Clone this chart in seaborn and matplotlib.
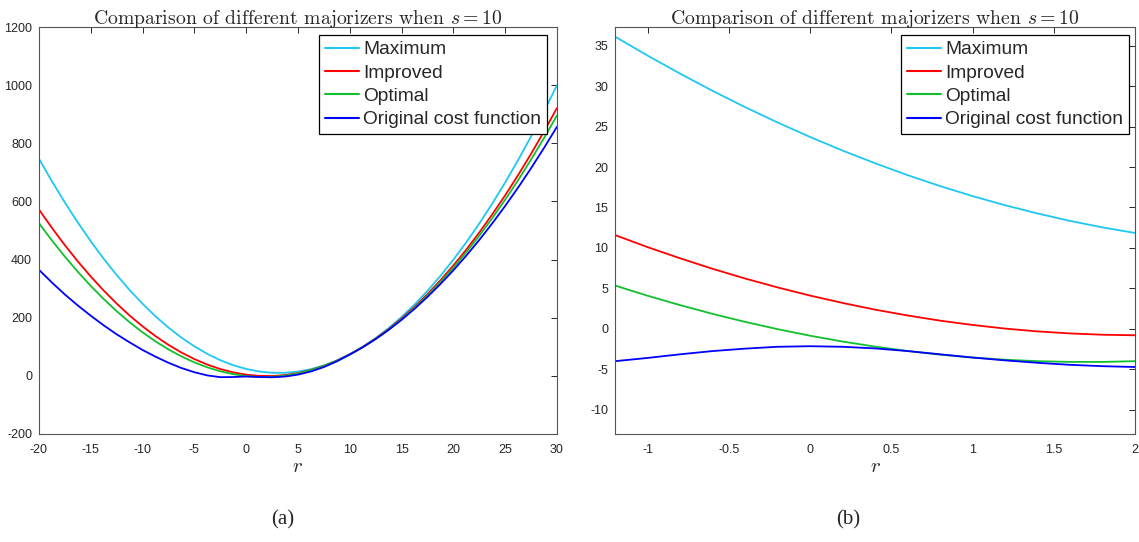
import matplotlib
matplotlib.use("Agg")
import matplotlib.pyplot as plt
from matplotlib.ticker import FuncFormatter
import pandas as pd
import seaborn as sns

# ---- panel (a): wide range of r ----
r_wide = [-20, -18.75, -17.5, -16.25, -15, -13.75, -12.5, -11.25, -10, -8.75,
          -7.5, -6.25, -5, -3.75, -2.5, -1.25, 0, 1.25, 2.5, 3.75,
          5, 6.25, 7.5, 8.75, 10, 11.25, 12.5, 13.75, 15, 16.25,
          17.5, 18.75, 20, 21.25, 22.5, 23.75, 25, 26.25, 27.5, 28.75, 30]
maximum_wide = [747.0, 669.6, 596.5, 527.7, 463.1, 402.9, 347.0, 295.3, 248.0, 204.9,
                166.1, 131.7, 101.5, 75.6, 54.0, 36.7, 23.7, 15.0, 10.6, 10.5,
                14.7, 23.1, 35.9, 52.9, 74.3, 99.9, 129.9, 164.1, 202.6, 245.4,
                292.5, 343.9, 399.7, 459.6, 523.9, 592.5, 665.4, 742.5, 824.0, 909.8, 999.8]
improved_wide = [572.4, 509.2, 449.7, 393.9, 341.8, 293.4, 248.7, 207.6, 170.3, 136.6,
                 106.6, 80.3, 57.7, 38.8, 23.5, 12.0, 4.1, -0.06, -0.55, 2.65,
                 9.5, 20.1, 34.4, 52.3, 74.0, 99.3, 128.3, 161.0, 197.4, 237.5,
                 281.2, 328.7, 379.8, 434.6, 493.2, 555.4, 621.2, 690.8, 764.1, 841.0, 921.7]
optimal_wide = [525.2, 466.0, 410.3, 358.1, 309.4, 264.2, 222.5, 184.4, 149.8, 118.6,
                91.0, 66.9, 46.4, 29.3, 15.7, 5.7, -0.85, -3.87, -3.38, 0.62,
                8.14, 19.2, 33.7, 51.8, 73.3, 98.4, 127.0, 159.1, 194.7, 233.9,
                276.5, 322.7, 372.3, 425.5, 482.2, 542.4, 606.1, 673.3, 744.1, 818.3, 896.1]
original_wide = [365.0, 321.2, 280.0, 242.2, 207.0, 173.7, 143.0, 115.2, 89.0, 66.0,
                 45.0, 27.0, 12.5, 1.5, -4.5, -4.08, -2.15, -3.98, -4.8, -2.4,
                 4.2, 15.1, 30.2, 49.8, 73.2, 98.3, 126.6, 158.0, 192.7, 230.5,
                 271.6, 315.8, 363.2, 413.8, 467.6, 524.5, 584.7, 648.0, 714.6, 784.3, 857.2]

# ---- panel (b): close-up around r = 0 ----
r_zoom = [-1.2, -1.0, -0.8, -0.6, -0.4, -0.2, 0.0, 0.2, 0.4, 0.6, 0.8,
          1.0, 1.2, 1.4, 1.6, 1.8, 2.0]
maximum_zoom = [36.12, 33.78, 31.55, 29.42, 27.41, 25.51, 23.72, 22.04, 20.47, 19.0,
                17.65, 16.41, 15.28, 14.26, 13.34, 12.54, 11.85]
improved_zoom = [11.59, 10.1, 8.72, 7.42, 6.22, 5.12, 4.11, 3.2, 2.37, 1.65,
                 1.01, 0.48, 0.03, -0.32, -0.57, -0.73, -0.8]
optimal_zoom = [5.35, 4.09, 2.93, 1.85, 0.86, -0.04, -0.85, -1.57, -2.2, -2.74,
                -3.19, -3.55, -3.82, -4.0, -4.09, -4.09, -4.0]
original_zoom = [-4.0, -3.6, -3.15, -2.75, -2.45, -2.22, -2.15, -2.22, -2.42, -2.75,
                 -3.15, -3.55, -3.9, -4.2, -4.45, -4.62, -4.72]

curve_names = ["Maximum", "Improved", "Optimal", "Original cost function"]
curve_colors = ["#1ec8f2", "#ff0000", "#12c02e", "#0000ff"]
title_text = r"Comparison of different majorizers when $s = 10$"


def long_table(r, columns):
    frames = []
    for name, vals in zip(curve_names, columns):
        frames.append(pd.DataFrame({"r": r, "value": vals, "curve": name}))
    return pd.concat(frames, ignore_index=True)


df_wide = long_table(r_wide, [maximum_wide, improved_wide, optimal_wide, original_wide])
df_zoom = long_table(r_zoom, [maximum_zoom, improved_zoom, optimal_zoom, original_zoom])

sns.set_style("white")
plt.rcParams["font.family"] = ["Liberation Sans", "DejaVu Sans"]
plt.rcParams["mathtext.fontset"] = "cm"
plt.rcParams["axes.unicode_minus"] = False

fig = plt.figure(figsize=(11.39, 5.42), dpi=100)
ax_a = fig.add_axes([0.0342, 0.1993, 0.4548, 0.7507])
ax_b = fig.add_axes([0.5400, 0.1993, 0.4565, 0.7507])

palette = dict(zip(curve_names, curve_colors))
axis_gray = "#262626"
fmt = FuncFormatter(lambda v, p: "%g" % v)

panels = [
    (ax_a, df_wide, (-20, 30), (-200, 1200), range(-20, 31, 5), range(-200, 1201, 200),
     (0.9807, 0.9803)),
    (ax_b, df_zoom, (-1.2, 2.0), (-13.0, 37.3),
     [-1, -0.5, 0, 0.5, 1, 1.5, 2], [-10, -5, 0, 5, 10, 15, 20, 25, 30, 35],
     (0.9885, 0.9803)),
]

for ax, df, xlim, ylim, xticks, yticks, anchor in panels:
    sns.lineplot(data=df, x="r", y="value", hue="curve", hue_order=curve_names,
                 palette=palette, estimator=None, sort=False, linewidth=1.3, ax=ax)
    ax.set_xlim(*xlim)
    ax.set_ylim(*ylim)
    ax.set_xticks(list(xticks))
    ax.set_yticks(list(yticks))
    ax.xaxis.set_major_formatter(fmt)
    ax.yaxis.set_major_formatter(fmt)
    ax.tick_params(direction="in", length=4.5, width=0.7, colors=axis_gray,
                   labelsize=9, top=True, right=True, pad=5)
    ax.tick_params(axis="x", pad=7)
    for sp in ax.spines.values():
        sp.set_color("#555555")
        sp.set_linewidth(0.8)
    ax.set_xlabel(r"$r$", fontsize=15, labelpad=1)
    ax.set_ylabel("")
    ax.set_title(title_text, family="cmr10", fontsize=14.2, pad=2.5)
    leg = ax.legend(loc="upper right", bbox_to_anchor=anchor, fontsize=13.8,
                    frameon=True, fancybox=False, framealpha=1, edgecolor="black",
                    handlelength=1.78, handletextpad=0.24, labelspacing=0.31,
                    borderpad=0.3, borderaxespad=0.0)
    leg.get_frame().set_linewidth(0.9)
    for h in leg.get_lines():
        h.set_linewidth(1.5)

fig.text(0.2485, 0.04, "(a)", ha="center", va="center", family="Liberation Serif", fontsize=15)
fig.text(0.7445, 0.04, "(b)", ha="center", va="center", family="Liberation Serif", fontsize=15)

fig.savefig("out.png", dpi=100)
